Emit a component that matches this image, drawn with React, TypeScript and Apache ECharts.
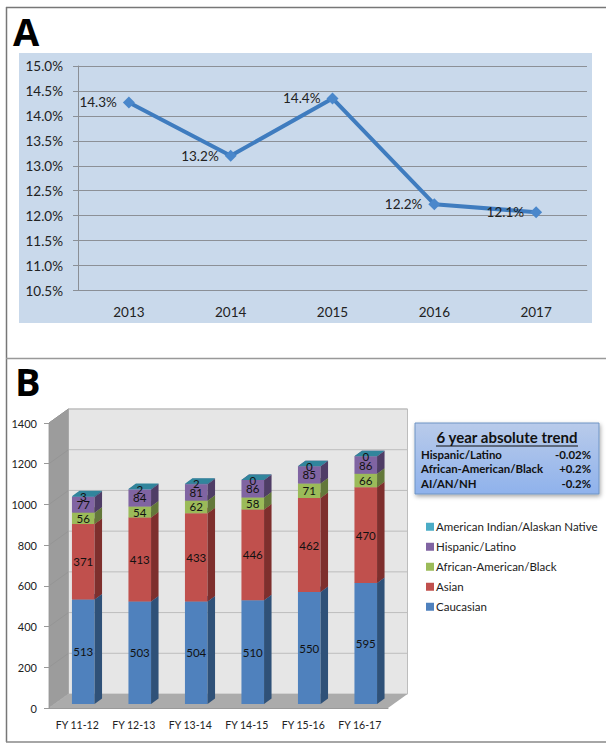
import React, { useEffect, useRef } from "react";
import * as echarts from "echarts";

const years = ["2013", "2014", "2015", "2016", "2017"];
const rates = [14.27, 13.2, 14.35, 12.23, 12.07];
const rateLabels = ["14.3%", "13.2%", "14.4%", "12.2%", "12.1%"];

const fiscalYears = ["FY 11-12", "FY 12-13", "FY 13-14", "FY 14-15", "FY 15-16", "FY 16-17"];
const caucasian = [513, 503, 504, 510, 550, 595];
const asian = [371, 413, 433, 446, 462, 470];
const black = [56, 54, 62, 58, 71, 66];
const hispanic = [77, 84, 81, 86, 85, 86];
const native = [3, 2, 2, 0, 0, 0];

const stackNames = ["Caucasian", "Asian", "African-American/Black", "Hispanic/Latino", "American Indian/Alaskan Native"];
const stackValues = [caucasian, asian, black, hispanic, native];
const frontColors = ["#4F81BD", "#C0504D", "#9BBB59", "#8064A2", "#4BACC6"];
const sideColors = ["#2F5178", "#7E2F2D", "#63783A", "#4F3D66", "#2B6F82"];
const topColors = ["#3F6CA0", "#A04040", "#7F9A48", "#6A5088", "#31859C"];

const trendRows = [
  ["Hispanic/Latino", "-0.02%"],
  ["African-American/Black", "+0.2%"],
  ["AI/AN/NH", "-0.2%"],
];
const FONT = "Lato, 'Open Sans', sans-serif";
const DX = 6, DY = -4, DEPTH_X = 7.5, DEPTH_Y = -5.5;

function buildStackSeries() {
  return stackNames.map((name, s) => {
    const data = fiscalYears.map((_, c) => {
      let base = 0;
      for (let k = 0; k < s; k++) base += stackValues[k][c];
      return [c, base + stackValues[s][c], base, stackValues[s][c]];
    });
    return {
      type: "custom", name, xAxisIndex: 1, yAxisIndex: 1, z: 3, data,
      encode: { x: 0, y: 1 },
      itemStyle: { color: frontColors[s] },
      renderItem: (_p: any, api: any) => {
        const c = api.value(0);
        const t = api.coord([c, api.value(1)]);
        const b = api.coord([c, api.value(2)]);
        const w = api.size([1, 0])[0] * 0.4;
        const l = t[0] - w / 2 + DX, r = l + w;
        const yt = t[1] + DY, yb = b[1] + DY;
        return {
          type: "group",
          children: [
            { type: "rect", shape: { x: l, y: yt, width: w, height: yb - yt }, style: { fill: frontColors[s] } },
            { type: "polygon", shape: { points: [[r, yt], [r + DEPTH_X, yt + DEPTH_Y], [r + DEPTH_X, yb + DEPTH_Y], [r, yb]] }, style: { fill: sideColors[s] } },
            { type: "polygon", shape: { points: [[l, yt], [l + DEPTH_X, yt + DEPTH_Y], [r + DEPTH_X, yt + DEPTH_Y], [r, yt]] }, style: { fill: topColors[s] } },
            { type: "text", style: { x: (l + r) / 2, y: (yt + yb) / 2, text: String(api.value(3)), fill: "#111", font: `11.5px ${FONT}`, align: "center", verticalAlign: "middle" } },
          ],
        };
      },
    };
  });
}

const ticksB = [0, 200, 400, 600, 800, 1000, 1200, 1400];

function buildWalls() {
  return {
    type: "custom", xAxisIndex: 1, yAxisIndex: 1, z: 1, silent: true, data: [[0, 0]],
    encode: { x: 0, y: 1 },
    renderItem: (p: any, api: any) => {
      const g = p.coordSys;
      const bx = 19.5, by = -14;
      const x0 = g.x, x1 = g.x + g.width, y0 = g.y, y1 = g.y + g.height;
      const kids: any[] = [
        { type: "polygon", shape: { points: [[x0 + bx, y0 + by], [x1 + bx, y0 + by], [x1 + bx, y1 + by], [x0 + bx, y1 + by]] }, style: { fill: "#E6E6E6", stroke: "#BDBDBD", lineWidth: 1 } },
        { type: "polygon", shape: { points: [[x0, y0], [x0 + bx, y0 + by], [x0 + bx, y1 + by], [x0, y1]] }, style: { fill: "#9C9C9C", stroke: "#A8A8A8", lineWidth: 1 } },
        { type: "polygon", shape: { points: [[x0, y1], [x0 + bx, y1 + by], [x1 + bx, y1 + by], [x1, y1]] }, style: { fill: "#ABABAB" } },
      ];
      ticksB.forEach((t) => {
        if (t === 0) return;
        const y = api.coord([0, t])[1];
        kids.push({ type: "line", shape: { x1: x0 + bx, y1: y + by, x2: x1 + bx, y2: y + by }, style: { stroke: "#BDBDBD", lineWidth: 1 } });
        kids.push({ type: "line", shape: { x1: x0, y1: y, x2: x0 + bx, y2: y + by }, style: { stroke: "#959595", lineWidth: 1 } });
      });
      return { type: "group", children: kids };
    },
  };
}

export default function App() {
  const ref = useRef<HTMLDivElement>(null);
  useEffect(() => {
    const chart = echarts.init(ref.current!, undefined, { renderer: "svg" });
    const box = { x: 415, y: 423, w: 184, h: 71 };
    chart.setOption({
      animation: false,
      backgroundColor: "#fff",
      textStyle: { fontFamily: FONT },
      grid: [
        { left: 78, right: 26, top: 66, height: 224.5 },
        { left: 49, right: 613 - 388, top: 423, height: 285 },
      ],
      xAxis: [
        { type: "category", gridIndex: 0, data: years, axisLine: { lineStyle: { color: "#8A8F96" } }, axisTick: { lineStyle: { color: "#8A8F96" } }, axisLabel: { color: "#222", fontSize: 13.5, margin: 14 } },
        { type: "category", gridIndex: 1, data: fiscalYears, z: 5, axisLine: { lineStyle: { color: "#999" } }, axisTick: { lineStyle: { color: "#999" } }, axisLabel: { color: "#222", fontSize: 10.5, margin: 11, interval: 0 } },
      ],
      yAxis: [
        { type: "value", gridIndex: 0, min: 10.5, max: 15, interval: 0.5, axisLine: { show: true, lineStyle: { color: "#8A8F96" } }, axisTick: { show: true, lineStyle: { color: "#8A8F96" } }, splitLine: { lineStyle: { color: "#8C9096", width: 1 } }, axisLabel: { color: "#222", fontSize: 13.5, margin: 15, formatter: (v: number) => v.toFixed(1) + "%" } },
        { type: "value", gridIndex: 1, min: 0, max: 1400, interval: 200, z: 5, splitLine: { show: false }, axisLine: { show: true, lineStyle: { color: "#999" } }, axisTick: { show: true, lineStyle: { color: "#999" } }, axisLabel: { color: "#222", fontSize: 11, margin: 12, formatter: (v: number) => String(v) } },
      ],
      legend: {
        orient: "vertical", left: 426, top: 520, padding: 0, itemWidth: 8, itemHeight: 8, itemGap: 6.5, icon: "rect",
        data: [...stackNames].reverse(),
        textStyle: { color: "#222", fontSize: 11.5, fontFamily: FONT, lineHeight: 13.5, padding: [0, 0, 0, -3] },
      },
      series: [
        {
          type: "line", xAxisIndex: 0, yAxisIndex: 0, data: rates, z: 4,
          lineStyle: { color: "#3F7CBF", width: 4 }, symbol: "diamond", symbolSize: 12,
          itemStyle: { color: "#4A87CB" },
          label: { show: true, position: "left", distance: 6, color: "#222", fontSize: 13.5, formatter: (p: any) => rateLabels[p.dataIndex] },
        },
        buildWalls(),
        ...buildStackSeries(),
      ],
      graphic: [
        { type: "rect", z: -10, shape: { x: 19, y: 53, width: 573, height: 270 }, style: { fill: "#C9D9EB" } },
        { type: "line", z: 20, shape: { x1: 6, y1: 7.5, x2: 606, y2: 7.5 }, style: { stroke: "#777", lineWidth: 1.5 } },
        { type: "line", z: 20, shape: { x1: 6.5, y1: 7, x2: 6.5, y2: 742 }, style: { stroke: "#777", lineWidth: 1.5 } },
        { type: "line", z: 20, shape: { x1: 6, y1: 358.5, x2: 606, y2: 358.5 }, style: { stroke: "#999", lineWidth: 1.5 } },
        { type: "line", z: 20, shape: { x1: 6, y1: 742, x2: 606, y2: 742 }, style: { stroke: "#888", lineWidth: 1.5 } },
        { type: "text", z: 20, style: { x: 13, y: 12, text: "A", fill: "#000", font: "bold 38px 'Open Sans', sans-serif" } },
        { type: "text", z: 20, style: { x: 15, y: 362, text: "B", fill: "#000", font: "bold 38px 'Open Sans', sans-serif" } },
        {
          type: "rect", z: 30, shape: { x: box.x, y: box.y, width: box.w, height: box.h },
          style: {
            fill: new echarts.graphic.LinearGradient(0, 0, 0, 1, [{ offset: 0, color: "#B9CBEA" }, { offset: 1, color: "#8FB2EC" }]),
            stroke: "#6E94C4", lineWidth: 1, shadowBlur: 4, shadowColor: "rgba(0,0,0,0.35)", shadowOffsetX: 1, shadowOffsetY: 2,
          },
        },
        { type: "text", z: 31, style: { x: box.x + box.w / 2, y: 437, text: "6 year absolute trend", fill: "#111", font: `bold 15px ${FONT}`, align: "center", verticalAlign: "middle" } },
        { type: "line", z: 31, shape: { x1: 436, y1: 446, x2: 578, y2: 446 }, style: { stroke: "#111", lineWidth: 1 } },
        ...trendRows.flatMap((row, i) => [
          { type: "text", z: 31, style: { x: 421, y: 454 + i * 14.5, text: row[0], fill: "#111", font: `bold 11.4px ${FONT}`, verticalAlign: "middle" } },
          { type: "text", z: 31, style: { x: 591, y: 454 + i * 14.5, text: row[1], fill: "#111", font: `bold 11.4px ${FONT}`, align: "right", verticalAlign: "middle" } },
        ]),
      ],
    });
    return () => chart.dispose();
  }, []);
  return <div ref={ref} style={{ position: "fixed", left: 0, top: 0, width: 613, height: 750 }} />;
}
